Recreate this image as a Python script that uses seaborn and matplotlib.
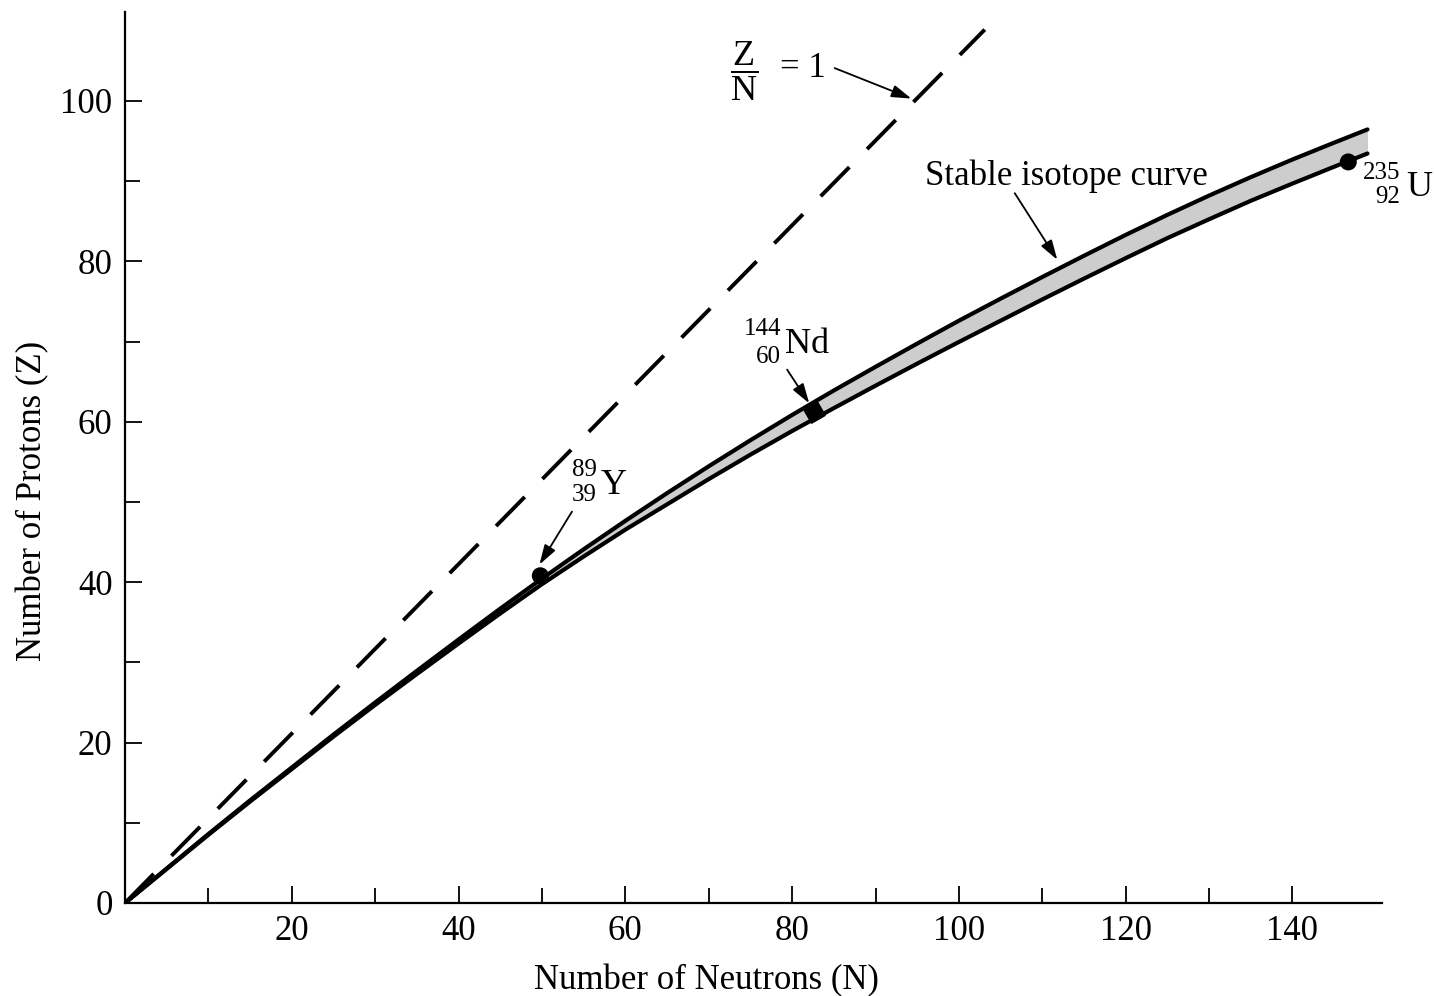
import matplotlib
matplotlib.use("Agg")
import matplotlib.pyplot as plt
import seaborn as sns
import pandas as pd

# stable isotope band (upper and lower edge)
neutrons = [0, 5, 10, 15, 20, 25, 30, 35, 40, 45, 50, 55, 60, 65, 70, 75,
            80, 85, 90, 95, 100, 105, 110, 115, 120, 125, 130, 135, 140, 145, 149]
z_upper = [0, 4.3, 8.6, 12.8, 16.9, 21.0, 25.0, 28.95, 32.85, 36.7, 40.45, 44.1,
           47.65, 51.1, 54.45, 57.7, 60.85, 63.9, 66.85, 69.75, 72.6, 75.35, 78.05,
           80.7, 83.3, 85.8, 88.2, 90.5, 92.7, 94.8, 96.45]
z_lower = [0, 4.25, 8.5, 12.65, 16.7, 20.75, 24.7, 28.55, 32.35, 36.1, 39.75, 43.2,
           46.55, 49.7, 52.85, 55.9, 58.85, 61.7, 64.5, 67.25, 69.95, 72.6, 75.25,
           77.85, 80.4, 82.9, 85.25, 87.55, 89.7, 91.8, 93.45]

# Z/N = 1 reference line (end points as drawn)
ref_n = [0, 103.1]
ref_z = [0, 108.9]

# marked isotopes
iso_symbol = ["Y", "Nd", "U"]
iso_mass = ["89", "144", "235"]
iso_atomic = ["39", "60", "92"]
iso_n = [49.8, 82.6, 146.7]
iso_z = [40.8, 61.2, 92.4]

x_major = [20, 40, 60, 80, 100, 120, 140]
x_minor = [10, 30, 50, 70, 90, 110, 130]
y_major = [0, 20, 40, 60, 80, 100]
y_minor = [10, 30, 50, 70, 90]

sns.set_style("ticks")
plt.rcParams["font.family"] = ["Liberation Serif", "DejaVu Serif"]
plt.rcParams["mathtext.fontset"] = "custom"
plt.rcParams["mathtext.rm"] = "Liberation Serif"
plt.rcParams["mathtext.it"] = "Liberation Serif:italic"
plt.rcParams["mathtext.bf"] = "Liberation Serif:bold"
plt.rcParams["text.color"] = "black"
plt.rcParams["axes.labelcolor"] = "black"

band = pd.DataFrame({"N": neutrons, "upper": z_upper, "lower": z_lower})
iso = pd.DataFrame({"symbol": iso_symbol, "A": iso_mass, "Z_num": iso_atomic,
                    "N": iso_n, "Z": iso_z})

fig = plt.figure(figsize=(14.34, 9.96), dpi=100)
ax = fig.add_axes([0.0872, 0.0934, 0.8763, 0.8946])

ax.fill_between(band["N"], band["lower"], band["upper"], color="#cdcdcd", lw=0, zorder=1)
for col in ["upper", "lower"]:
    sns.lineplot(data=band, x="N", y=col, ax=ax, color="black", lw=3.0,
                 sort=False, estimator=None, zorder=2)

sns.lineplot(x=ref_n, y=ref_z, ax=ax, color="black", lw=2.8,
             linestyle=(0, (10.5, 6.5)), sort=False, estimator=None)

dots = iso[iso["symbol"] != "Nd"]
sns.scatterplot(data=dots, x="N", y="Z", ax=ax, color="black", s=150,
                edgecolor="none", zorder=4)
nd = iso[iso["symbol"] == "Nd"]
ax.plot(nd["N"], nd["Z"], ls="none", marker=(4, 0, 75), ms=16,
        color="black", zorder=4)

ax.set_xlim(0, 150.7)
ax.set_ylim(0, 111.1)
ax.set_xticks(x_major)
ax.set_xticks(x_minor, minor=True)
ax.set_yticks(y_major)
ax.set_yticks(y_minor, minor=True)
ax.tick_params(which="both", direction="in", width=1.3, colors="black",
               labelsize=25, pad=9)
ax.tick_params(which="major", length=12)
ax.tick_params(which="minor", length=11)
sns.despine(ax=ax)
for s in ["left", "bottom"]:
    ax.spines[s].set_linewidth(1.6)
    ax.spines[s].set_color("black")

ax.set_xlabel("Number of Neutrons (N)", fontsize=25)
ax.set_ylabel("Number of Protons (Z)", fontsize=25)
ax.xaxis.set_label_coords(0.463, -0.069)
ax.yaxis.set_label_coords(-0.060, 0.451)

arrow = dict(arrowstyle="-|>,head_length=0.8,head_width=0.25", color="black",
             lw=1.3, mutation_scale=15, shrinkA=0, shrinkB=0)

# Z/N = 1
ax.text(74.2, 103.7, r"$\dfrac{\mathrm{Z}}{\mathrm{N}}$", fontsize=26,
        ha="center", va="center")
ax.text(78.5, 104.0, "= 1", fontsize=25, ha="left", va="center")
ax.annotate("", xy=(94.3, 100.3), xytext=(85.1, 104.1), arrowprops=arrow)

# stable isotope curve
ax.text(95.9, 90.6, "Stable isotope curve", fontsize=25, ha="left", va="center")
ax.annotate("", xy=(111.8, 80.2), xytext=(106.7, 88.5), arrowprops=arrow)

# isotope labels: mass number over atomic number, then the symbol
label_pos = {"Y": (56.6, 54.0, 50.9, 57.0, 52.1),
             "Nd": (78.7, 71.6, 68.1, 79.1, 69.6),
             "U": (152.9, 91.0, 88.0, 153.7, 89.2)}
for _, r in iso.iterrows():
    xs, ya, yz, xe, ye = label_pos[r["symbol"]]
    ax.text(xs, ya, r["A"], fontsize=18, ha="right", va="center", clip_on=False)
    ax.text(xs, yz, r["Z_num"], fontsize=18, ha="right", va="center", clip_on=False)
    ax.text(xe, ye, r["symbol"], fontsize=26, ha="left", va="center", clip_on=False)

ax.annotate("", xy=(49.7, 42.2), xytext=(53.6, 48.8), arrowprops=arrow)
ax.annotate("", xy=(82.05, 62.3), xytext=(79.4, 66.5), arrowprops=arrow)

fig.savefig("out.png", dpi=100)
